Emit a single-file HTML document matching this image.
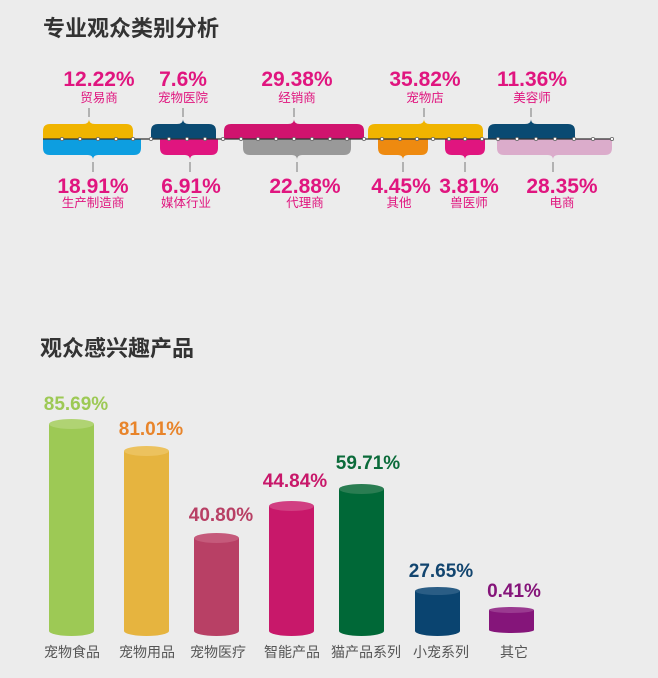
<!DOCTYPE html>
<html><head><meta charset="utf-8"><style>
body{margin:0;background:#ececec;}
svg{display:block;font-family:"Liberation Sans","Noto Sans CJK SC",sans-serif;}
.p{font-size:21px;font-weight:bold;fill:#e0157f;text-anchor:middle;}
.s{font-size:12.5px;fill:#e0157f;text-anchor:middle;}
.t{font-size:22px;font-weight:bold;fill:#333;}
.v{font-size:19px;font-weight:bold;text-anchor:middle;}
.l{font-size:14px;fill:#555;text-anchor:middle;}
</style></head><body>
<svg width="658" height="678" viewBox="0 0 658 678">
<rect width="658" height="678" fill="#ececec"/>
<text class="t" x="43" y="36">专业观众类别分析</text>
<text class="t" x="40" y="356">观众感兴趣产品</text>
<g id="up">
<path d="M43 139V131Q43 124 50 124H83Q89 124 89 119Q89 124 95 124H126Q133 124 133 131V139Z" fill="#f0b400"/>
<path d="M151 139V131Q151 124 158 124H177Q183 124 183 119Q183 124 189 124H209Q216 124 216 131V139Z" fill="#0a4a72"/>
<path d="M224 139V131Q224 124 231 124H288Q294 124 294 119Q294 124 300 124H357Q364 124 364 131V139Z" fill="#d0136e"/>
<path d="M368 139V131Q368 124 375 124H418Q424 124 424 119Q424 124 430 124H476Q483 124 483 131V139Z" fill="#f0b400"/>
<path d="M488 139V131Q488 124 495 124H525Q531 124 531 119Q531 124 537 124H568Q575 124 575 131V139Z" fill="#0a4a72"/>
</g>
<path d="M43 139V148Q43 155 50 155H88Q93 155 93 160Q93 155 98 155H134Q141 155 141 148V139Z" fill="#0d9ee0"/>
<path d="M160 139V148Q160 155 167 155H185Q190 155 190 160Q190 155 195 155H211Q218 155 218 148V139Z" fill="#e0157f"/>
<path d="M243 139V148Q243 155 250 155H292Q297 155 297 160Q297 155 302 155H344Q351 155 351 148V139Z" fill="#999"/>
<path d="M378 139V148Q378 155 385 155H398Q403 155 403 160Q403 155 408 155H421Q428 155 428 148V139Z" fill="#ee8a10"/>
<path d="M445 139V148Q445 155 452 155H460Q465 155 465 160Q465 155 470 155H478Q485 155 485 148V139Z" fill="#e0157f"/>
<path d="M497 139V148Q497 155 504 155H548Q553 155 553 160Q553 155 558 155H605Q612 155 612 148V139Z" fill="#dbaccb"/>
<line x1="43" y1="139" x2="612" y2="139" stroke="#333" stroke-width="1.2"/>
<g fill="#fff" stroke="#666" stroke-width="0.8">
<circle cx="62" cy="139" r="1.6"/><circle cx="80" cy="139" r="1.6"/><circle cx="98" cy="139" r="1.6"/><circle cx="116" cy="139" r="1.6"/><circle cx="133" cy="139" r="1.6"/><circle cx="151" cy="139" r="1.6"/><circle cx="169" cy="139" r="1.6"/><circle cx="187" cy="139" r="1.6"/><circle cx="205" cy="139" r="1.6"/><circle cx="223" cy="139" r="1.6"/><circle cx="241" cy="139" r="1.6"/><circle cx="258" cy="139" r="1.6"/><circle cx="276" cy="139" r="1.6"/><circle cx="294" cy="139" r="1.6"/><circle cx="312" cy="139" r="1.6"/><circle cx="330" cy="139" r="1.6"/><circle cx="347" cy="139" r="1.6"/><circle cx="364" cy="139" r="1.6"/><circle cx="382" cy="139" r="1.6"/><circle cx="400" cy="139" r="1.6"/><circle cx="417" cy="139" r="1.6"/><circle cx="433" cy="139" r="1.6"/><circle cx="449" cy="139" r="1.6"/><circle cx="465" cy="139" r="1.6"/><circle cx="482" cy="139" r="1.6"/><circle cx="498" cy="139" r="1.6"/><circle cx="517" cy="139" r="1.6"/><circle cx="536" cy="139" r="1.6"/><circle cx="555" cy="139" r="1.6"/><circle cx="574" cy="139" r="1.6"/><circle cx="593" cy="139" r="1.6"/><circle cx="612" cy="139" r="1.6"/>
</g>
<g stroke="#777" stroke-width="1">
<line x1="89" y1="108" x2="89" y2="117"/><line x1="183" y1="108" x2="183" y2="117"/><line x1="294" y1="108" x2="294" y2="117"/><line x1="424" y1="108" x2="424" y2="117"/><line x1="531" y1="108" x2="531" y2="117"/>
<line x1="93" y1="162" x2="93" y2="172"/><line x1="190" y1="162" x2="190" y2="172"/><line x1="297" y1="162" x2="297" y2="172"/><line x1="403" y1="162" x2="403" y2="172"/><line x1="465" y1="162" x2="465" y2="172"/><line x1="553" y1="162" x2="553" y2="172"/>
</g>
<text class="p" x="99" y="86">12.22%</text><text class="s" x="99" y="102">贸易商</text>
<text class="p" x="183" y="86">7.6%</text><text class="s" x="183" y="102">宠物医院</text>
<text class="p" x="297" y="86">29.38%</text><text class="s" x="297" y="102">经销商</text>
<text class="p" x="425" y="86">35.82%</text><text class="s" x="425" y="102">宠物店</text>
<text class="p" x="532" y="86">11.36%</text><text class="s" x="532" y="102">美容师</text>
<text class="p" x="93" y="193">18.91%</text><text class="s" x="93" y="207">生产制造商</text>
<text class="p" x="191" y="193">6.91%</text><text class="s" x="186" y="207">媒体行业</text>
<text class="p" x="305" y="193">22.88%</text><text class="s" x="305" y="207">代理商</text>
<text class="p" x="401" y="193">4.45%</text><text class="s" x="399" y="207">其他</text>
<text class="p" x="469" y="193">3.81%</text><text class="s" x="469" y="207">兽医师</text>
<text class="p" x="562" y="193">28.35%</text><text class="s" x="562" y="207">电商</text>

<g>
<path d="M49 424V631A22.5 5 0 0 0 94 631V424Z" fill="#9dc955"/><ellipse cx="71.5" cy="424" rx="22.5" ry="5" fill="#b0d373"/>
<path d="M124 451V631A22.5 5 0 0 0 169 631V451Z" fill="#e6b43f"/><ellipse cx="146.5" cy="451" rx="22.5" ry="5" fill="#ecc25e"/>
<path d="M194 538V631A22.5 5 0 0 0 239 631V538Z" fill="#b84065"/><ellipse cx="216.5" cy="538" rx="22.5" ry="5" fill="#c55a7b"/>
<path d="M269 506V631A22.5 5 0 0 0 314 631V506Z" fill="#c8186a"/><ellipse cx="291.5" cy="506" rx="22.5" ry="5" fill="#d13f82"/>
<path d="M339 489V631A22.5 5 0 0 0 384 631V489Z" fill="#006837"/><ellipse cx="361.5" cy="489" rx="22.5" ry="5" fill="#2a7d52"/>
<path d="M415 591V631A22.5 5 0 0 0 460 631V591Z" fill="#0a4470"/><ellipse cx="437.5" cy="591" rx="22.5" ry="4" fill="#2a5d85"/>
<path d="M489 610V630A22.5 3 0 0 0 534 630V610Z" fill="#85157a"/><ellipse cx="511.5" cy="610" rx="22.5" ry="3" fill="#9a3a90"/>
</g>
<text class="v" x="76" y="410" fill="#9dc955">85.69%</text>
<text class="v" x="151" y="435" fill="#e8842a">81.01%</text>
<text class="v" x="221" y="521" fill="#b84065">40.80%</text>
<text class="v" x="295" y="487" fill="#c8186a">44.84%</text>
<text class="v" x="368" y="469" fill="#0b6b3a">59.71%</text>
<text class="v" x="441" y="577" fill="#12456f">27.65%</text>
<text class="v" x="514" y="597" fill="#85157a">0.41%</text>
<text class="l" x="72" y="657">宠物食品</text>
<text class="l" x="147" y="657">宠物用品</text>
<text class="l" x="218" y="657">宠物医疗</text>
<text class="l" x="292" y="657">智能产品</text>
<text class="l" x="366" y="657">猫产品系列</text>
<text class="l" x="441" y="657">小宠系列</text>
<text class="l" x="514" y="657">其它</text>
</svg>
</body></html>
